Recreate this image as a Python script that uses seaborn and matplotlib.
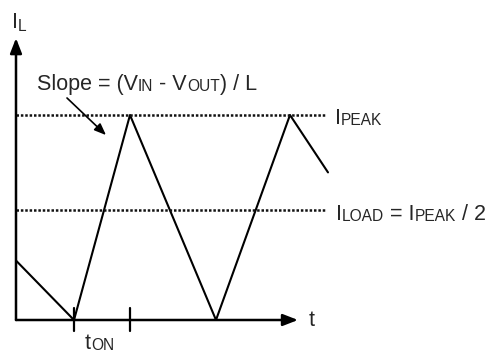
import matplotlib
matplotlib.use("Agg")
import matplotlib.pyplot as plt
import matplotlib.transforms as mtransforms
import seaborn as sns
import pandas as pd

# Waveform data (time in arbitrary units, current normalised to I_PEAK = 1)
t_points = [0, 58, 114, 200, 274, 312]
i_points = [0.29, 0.0, 1.0, 0.0, 1.0, 0.72]
i_peak = 1.0
i_load = 0.535
ticks_t = [58, 114]

sns.set_style("white")
plt.rcParams["font.family"] = ["Liberation Sans", "DejaVu Sans"]

fig = plt.figure(figsize=(4.93, 3.54), dpi=100)
ax = fig.add_axes([0, 0, 1, 1])
ax.set_xlim(-16, 477)
ax.set_ylim((320 - 354) / 205, 320 / 205)
ax.axis("off")

df = pd.DataFrame({"t": t_points, "I": i_points})
sns.lineplot(data=df, x="t", y="I", ax=ax, color="black", lw=1.5, sort=False, estimator=None)

# dotted levels
for lvl in [i_peak, i_load]:
    ax.plot([0, 310], [lvl, lvl], color="#111111", lw=1.8, ls=(0, (1, 0.75)), dash_capstyle="butt")

# axes arrows
arrow_kw = dict(arrowstyle="-|>,head_length=0.9,head_width=0.35", color="black", lw=1.8,
                shrinkA=0, shrinkB=0)
ax.annotate("", xy=(0, 1.375), xytext=(0, 0), arrowprops=arrow_kw)
ax.annotate("", xy=(282, 0), xytext=(0, 0), arrowprops=arrow_kw)

# ticks on time axis
for tt in ticks_t:
    ax.plot([tt, tt], [-0.055, 0.06], color="black", lw=1.6)

# slope arrow
ax.annotate("", xy=(90, 0.902), xytext=(51, 1.083),
            arrowprops=dict(arrowstyle="-|>,head_length=0.7,head_width=0.28", color="black", lw=1.2,
                            shrinkA=0, shrinkB=0))

renderer = fig.canvas.get_renderer()
ident = mtransforms.IdentityTransform()


def rich(x, y, parts, fs=15.5, sub_scale=0.72, sub_drop=1):
    px, py = ax.transData.transform((x, y))
    for s, sub in parts:
        t = ax.text(px, py - (sub_drop if sub else 0), s, transform=ident,
                    fontsize=fs * (sub_scale if sub else 1), ha="left", va="baseline")
        bb = t.get_window_extent(renderer)
        px = bb.x1


rich(-4, 1.424, [("I", 0), ("L", 1)], sub_drop=3)
rich(21, 1.122, [("Slope = (V", 0), ("IN", 1), (" - V", 0), ("OUT", 1), (") / L", 0)])
rich(319, 0.958, [("I", 0), ("PEAK", 1)])
rich(320, 0.488, [("I", 0), ("LOAD", 1), (" = I", 0), ("PEAK", 1), (" / 2", 0)])
rich(69, -0.1415, [("t", 0), ("ON", 1)])
rich(293, -0.029, [("t", 0)])

fig.savefig("out.png", dpi=100)
